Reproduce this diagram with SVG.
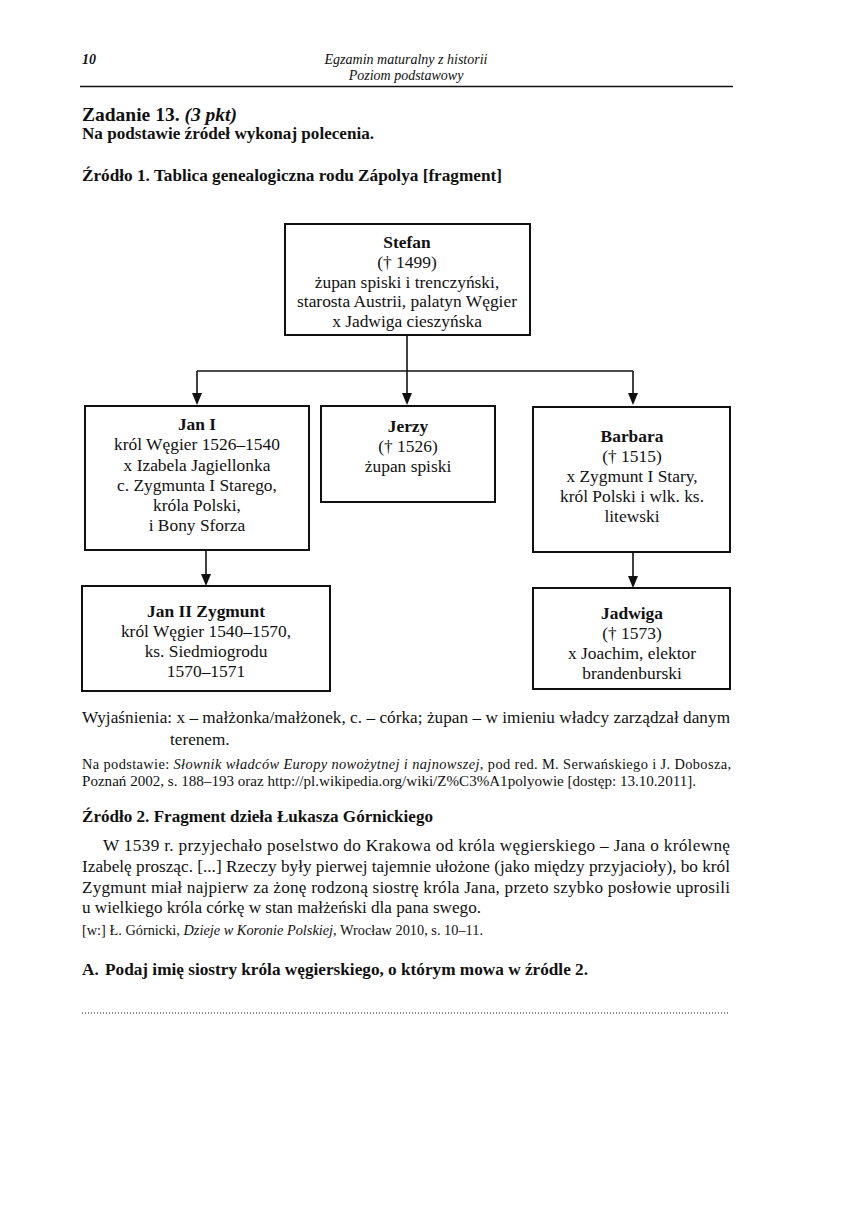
<svg xmlns="http://www.w3.org/2000/svg" width="852" height="1205" viewBox="0 0 852 1205">
<defs>
<style>
text{font-family:"Liberation Serif","Times New Roman",serif;fill:#111}
.b{font-weight:bold}
.i{font-style:italic}
.bx{font-size:17.4px;text-anchor:middle}
.box{fill:#fff;stroke:#111;stroke-width:2}
.c{stroke:#111;stroke-width:1.6;fill:none}
.t{font-size:17.2px}
.s{font-size:14.4px}
</style>
<marker id="ad" viewBox="0 0 12 10" refX="10" refY="5" markerWidth="12" markerHeight="10" markerUnits="userSpaceOnUse" orient="auto">
<path d="M0,0 L12,5 L0,10 Z" fill="#111"/>
</marker>
</defs>
<rect width="852" height="1205" fill="#fff"/>

<g id="header">
<text x="82" y="64" class="b i" font-size="14">10</text>
<text x="406" y="64" class="i" font-size="14" text-anchor="middle">Egzamin maturalny z historii</text>
<text x="406" y="80" class="i" font-size="14" text-anchor="middle">Poziom podstawowy</text>
<line x1="80" y1="86.5" x2="733" y2="86.5" stroke="#111" stroke-width="1.5"/>
</g>

<g id="title">
<text x="82" y="121" font-size="19.5" class="b">Zadanie 13. <tspan class="i">(3 pkt)</tspan></text>
<text x="82" y="139" class="t b" textLength="292" lengthAdjust="spacingAndGlyphs">Na podstawie źródeł wykonaj polecenia.</text>
<text x="82" y="181" class="t b" textLength="420" lengthAdjust="spacingAndGlyphs">Źródło 1. Tablica genealogiczna rodu Zápolya [fragment]</text>
</g>

<g id="connectors">
<path class="c" d="M407,335 V371"/>
<path class="c" d="M197,371 H633"/>
<path class="c" d="M197,371 V403" marker-end="url(#ad)"/>
<path class="c" d="M407,371 V403" marker-end="url(#ad)"/>
<path class="c" d="M633,371 V403" marker-end="url(#ad)"/>
<path class="c" d="M206,550 V584" marker-end="url(#ad)"/>
<path class="c" d="M633,552 V586" marker-end="url(#ad)"/>
</g>

<g id="stefan">
<rect class="box" x="285" y="224" width="245" height="111"/>
<text class="bx b" x="407" y="248">Stefan</text>
<text class="bx" x="407" y="268">(† 1499)</text>
<text class="bx" x="407" y="288">żupan spiski i trenczyński,</text>
<text class="bx" x="407" y="307">starosta Austrii, palatyn Węgier</text>
<text class="bx" x="407" y="327">x Jadwiga cieszyńska</text>
</g>

<g id="jan1">
<rect class="box" x="85" y="406" width="224" height="144"/>
<text class="bx b" x="197" y="430">Jan I</text>
<text class="bx" x="197" y="450">król Węgier 1526–1540</text>
<text class="bx" x="197" y="471">x Izabela Jagiellonka</text>
<text class="bx" x="197" y="491">c. Zygmunta I Starego,</text>
<text class="bx" x="197" y="511">króla Polski,</text>
<text class="bx" x="197" y="531">i Bony Sforza</text>
</g>

<g id="jerzy">
<rect class="box" x="321" y="406" width="174" height="96"/>
<text class="bx b" x="408" y="432">Jerzy</text>
<text class="bx" x="408" y="452">(† 1526)</text>
<text class="bx" x="408" y="472">żupan spiski</text>
</g>

<g id="barbara">
<rect class="box" x="533" y="407" width="197" height="145"/>
<text class="bx b" x="632" y="442">Barbara</text>
<text class="bx" x="632" y="462">(† 1515)</text>
<text class="bx" x="632" y="482">x Zygmunt I Stary,</text>
<text class="bx" x="632" y="502">król Polski i wlk. ks.</text>
<text class="bx" x="632" y="522">litewski</text>
</g>

<g id="jan2">
<rect class="box" x="82" y="586" width="248" height="105"/>
<text class="bx b" x="206" y="617">Jan II Zygmunt</text>
<text class="bx" x="206" y="637">król Węgier 1540–1570,</text>
<text class="bx" x="206" y="657">ks. Siedmiogrodu</text>
<text class="bx" x="206" y="677">1570–1571</text>
</g>

<g id="jadwiga">
<rect class="box" x="533" y="588" width="197" height="101"/>
<text class="bx b" x="632" y="619">Jadwiga</text>
<text class="bx" x="632" y="639">(† 1573)</text>
<text class="bx" x="632" y="659">x Joachim, elektor</text>
<text class="bx" x="632" y="679">brandenburski</text>
</g>

<g id="notes">
<text class="t" x="82" y="723" textLength="648" lengthAdjust="spacing">Wyjaśnienia: x – małżonka/małżonek, c. – córka; żupan – w imieniu władcy zarządzał danym</text>
<text class="t" x="170" y="745">terenem.</text>
<text class="s" x="82" y="769" textLength="649" lengthAdjust="spacing">Na podstawie: <tspan class="i">Słownik władców Europy nowożytnej i najnowszej</tspan>, pod red. M. Serwańskiego i J. Dobosza,</text>
<text class="s" x="82" y="786" textLength="614" lengthAdjust="spacingAndGlyphs">Poznań 2002, s. 188–193 oraz http://pl.wikipedia.org/wiki/Z%C3%A1polyowie [dostęp: 13.10.2011].</text>
</g>

<g id="source2">
<text class="t b" x="82" y="822" textLength="351" lengthAdjust="spacingAndGlyphs">Źródło 2. Fragment dzieła Łukasza Górnickiego</text>
<text class="t" x="103" y="851" textLength="627" lengthAdjust="spacing">W 1539 r. przyjechało poselstwo do Krakowa od króla węgierskiego – Jana o królewnę</text>
<text class="t" x="82" y="872" textLength="648" lengthAdjust="spacing">Izabelę prosząc. [...] Rzeczy były pierwej tajemnie ułożone (jako między przyjacioły), bo król</text>
<text class="t" x="82" y="893" textLength="648" lengthAdjust="spacing">Zygmunt miał najpierw za żonę rodzoną siostrę króla Jana, przeto szybko posłowie uprosili</text>
<text class="t" x="82" y="913" textLength="399" lengthAdjust="spacingAndGlyphs">u wielkiego króla córkę w stan małżeński dla pana swego.</text>
<text class="s" x="82" y="935" textLength="401" lengthAdjust="spacingAndGlyphs">[w:] Ł. Górnicki, <tspan class="i">Dzieje w Koronie Polskiej</tspan>, Wrocław 2010, s. 10–11.</text>
</g>

<g id="question">
<text class="t b" x="82" y="975">A.</text>
<text class="t b" x="105" y="975" textLength="483" lengthAdjust="spacingAndGlyphs">Podaj imię siostry króla węgierskiego, o którym mowa w źródle 2.</text>
<line x1="82" y1="1013" x2="730" y2="1013" stroke="#111" stroke-width="1" stroke-dasharray="1 2"/>
</g>
</svg>
